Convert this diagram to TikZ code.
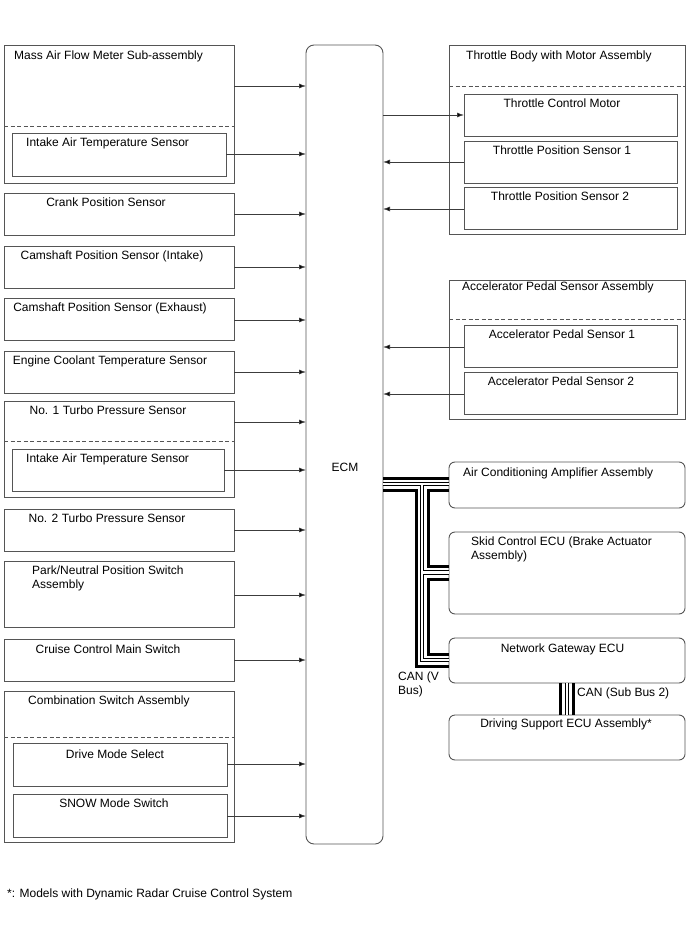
\documentclass[tikz,border=0pt]{standalone}
\usepackage{fontspec}
\setmainfont{Liberation Sans}
\usetikzlibrary{arrows.meta}
\definecolor{bc}{RGB}{85,85,85}
\definecolor{lc}{RGB}{60,60,60}
\begin{document}
\begin{tikzpicture}[x=1pt,y=-1pt,
  box/.style={draw=bc,line width=0.9pt,inner sep=0pt,outer sep=0pt,anchor=north west},
  rbox/.style={box,rounded corners=6pt},
  dline/.style={draw=bc,line width=0.8pt,dash pattern=on 4pt off 2.5pt},
  arr/.style={draw=lc,line width=0.8pt,-{Latex[length=7pt,width=5pt,fill=black]}},
  txt/.style={inner sep=0pt,font=\fontsize{12}{14}\selectfont},
  thk/.style={line width=3pt,black},
  dblo/.style={line width=4.2pt,black},
  dbli/.style={line width=2.4pt,white}
]
\useasboundingbox (0,0) rectangle (688,949);
\newcommand{\bx}[6][box]{\node[#1,minimum width=#5pt,minimum height=#6pt] (#2) at (#3,#4) {};}
% left column
\bx{maf}{4}{45}{230}{138}
\bx{iat1}{12}{133}{214}{43}
\bx{crk}{4}{193}{230}{42}
\bx{cmi}{4}{246}{230}{42}
\bx{cme}{4}{298}{230}{42}
\bx{ect}{4}{351}{230}{42}
\bx{tb1}{4}{401}{230}{96}
\bx{iat2}{12}{449}{212}{42}
\bx{tb2}{4}{509}{230}{42}
\bx{pnp}{4}{561}{230}{66}
\bx{ccs}{4}{639}{230}{42}
\bx{cmb}{4}{691}{230}{151}
\bx{dms}{13}{743}{214}{43}
\bx{snw}{13}{794}{214}{43}
\draw[dline] (maf.west |- 0,126) -- (maf.east |- 0,126);
\draw[dline] (tb1.west |- 0,441) -- (tb1.east |- 0,441);
\draw[dline] (cmb.west |- 0,737) -- (cmb.east |- 0,737);
% ECM
\node[box,rounded corners=8pt,minimum width=77pt,minimum height=799pt] (ecm) at (306,45) {};
% right column
\bx{thr}{449}{45}{236}{189}
\bx{tcm}{464}{94}{213}{42}
\bx{tp1}{464}{141}{213}{42}
\bx{tp2}{464}{187}{213}{42}
\bx{acc}{449}{280}{236}{139}
\bx{ap1}{464}{325}{213}{42}
\bx{ap2}{464}{372}{213}{42}
\draw[dline] (thr.west |- 0,86) -- (thr.east |- 0,86);
\draw[dline] (acc.west |- 0,319) -- (acc.east |- 0,319);
\bx[rbox]{ac}{449}{462}{236}{46}
\bx[rbox]{skid}{449}{532}{236}{82}
\bx[rbox]{gw}{449}{638}{236}{45}
\bx[rbox]{ds}{449}{715}{236}{45}
% texts
\node[txt,anchor=base west] (t1) at (14,59.5) {Mass Air Flow Meter Sub-assembly};
\node[txt,anchor=base west] (t2) at (26,146.5) {Intake Air Temperature Sensor};
\node[txt,anchor=base] (t3) at (106,206.5) {Crank Position Sensor};
\node[txt,anchor=base] (t4) at (112,259.5) {Camshaft Position Sensor (Intake)};
\node[txt,anchor=base] (t5) at (110,311.5) {Camshaft Position Sensor (Exhaust)};
\node[txt,anchor=base] (t6) at (110,364.5) {Engine Coolant Temperature Sensor};
\node[txt,anchor=base] (t7) at (108,414.5) {No. 1 Turbo Pressure Sensor};
\node[txt,anchor=base west] (t8) at (26,462.5) {Intake Air Temperature Sensor};
\node[txt,anchor=base] (t9) at (107,522.5) {No. 2 Turbo Pressure Sensor};
\node[txt,anchor=base west] (t10) at (32,574.5) {Park/Neutral Position Switch};
\node[txt,anchor=base west] (t11) at (32,588.5) {Assembly};
\node[txt,anchor=base] (t12) at (108,653.5) {Cruise Control Main Switch};
\node[txt,anchor=base west] (t13) at (28,704.5) {Combination Switch Assembly};
\node[txt,anchor=base] (t14) at (115,758.5) {Drive Mode Select};
\node[txt,anchor=base] (t15) at (114,807.5) {SNOW Mode Switch};
\node[txt,anchor=base] (t16) at (345,471.5) {ECM};
\node[txt,anchor=base west] (t17) at (466,59.5) {Throttle Body with Motor Assembly};
\node[txt,anchor=base] (t18) at (562,107.5) {Throttle Control Motor};
\node[txt,anchor=base] (t19) at (562,154.5) {Throttle Position Sensor 1};
\node[txt,anchor=base] (t20) at (560,200.5) {Throttle Position Sensor 2};
\node[txt,anchor=base west] (t21) at (462,290.5) {Accelerator Pedal Sensor Assembly};
\node[txt,anchor=base] (t22) at (562,338.5) {Accelerator Pedal Sensor 1};
\node[txt,anchor=base] (t23) at (561,385.5) {Accelerator Pedal Sensor 2};
\node[txt,anchor=base west] (t24) at (463,476.5) {Air Conditioning Amplifier Assembly};
\node[txt,anchor=base west] (t25) at (471,545.5) {Skid Control ECU (Brake Actuator};
\node[txt,anchor=base west] (t26) at (471,559.5) {Assembly)};
\node[txt,anchor=base] (t27) at (562.5,652.5) {Network Gateway ECU};
\node[txt,anchor=base] (t28) at (566,727.5) {Driving Support ECU Assembly*};
\node[txt,anchor=base west] (t29) at (577,696.5) {CAN (Sub Bus 2)};
\node[txt,anchor=base west] (t30) at (398,680.5) {CAN (V};
\node[txt,anchor=base west] (t31) at (398,694.5) {Bus)};
\node[txt,anchor=base west] (t32) at (7,897.5) {*: Models with Dynamic Radar Cruise Control System};
% arrows left -> ECM
\draw[arr] (maf.east |- 0,86) -- (ecm.west |- 0,86);
\draw[arr] (iat1.east |- 0,154) -- (ecm.west |- 0,154);
\draw[arr] (crk.east |- 0,214) -- (ecm.west |- 0,214);
\draw[arr] (cmi.east |- 0,267) -- (ecm.west |- 0,267);
\draw[arr] (cme.east |- 0,320) -- (ecm.west |- 0,320);
\draw[arr] (ect.east |- 0,372) -- (ecm.west |- 0,372);
\draw[arr] (tb1.east |- 0,422) -- (ecm.west |- 0,422);
\draw[arr] (iat2.east |- 0,470) -- (ecm.west |- 0,470);
\draw[arr] (tb2.east |- 0,530) -- (ecm.west |- 0,530);
\draw[arr] (pnp.east |- 0,595) -- (ecm.west |- 0,595);
\draw[arr] (ccs.east |- 0,660) -- (ecm.west |- 0,660);
\draw[arr] (dms.east |- 0,764) -- (ecm.west |- 0,764);
\draw[arr] (snw.east |- 0,816) -- (ecm.west |- 0,816);
% right arrows
\draw[arr] (ecm.east |- 0,115) -- (tcm.west |- 0,115);
\draw[arr] (tp1.west |- 0,162) -- (ecm.east |- 0,162);
\draw[arr] (tp2.west |- 0,209) -- (ecm.east |- 0,209);
\draw[arr] (ap1.west |- 0,347) -- (ecm.east |- 0,347);
\draw[arr] (ap2.west |- 0,394) -- (ecm.east |- 0,394);
% CAN V bus
\coordinate (jo) at (416,490);
\coordinate (jd) at (422,484);
\coordinate (ji) at (428,490);
\draw[thk] (ecm.east |- 0,478) -- (ac.west |- 0,478);
\draw[thk] (ecm.east |- 0,490) -- (jo) -- (jo |- 0,666) -- (gw.west |- 0,666);
\draw[thk] (ac.west |- 0,490) -- (ji) -- (ji |- 0,566) -- (skid.west |- 0,566);
\draw[thk] (skid.west |- 0,579) -- (ji |- 0,579) -- (ji |- 0,654) -- (gw.west |- 0,654);
\foreach \s in {dblo,dbli}{
  \draw[\s] (ecm.east |- 0,484) -- (ac.west |- 0,484);
  \draw[\s] (jd) -- (jd |- 0,660) -- (gw.west |- 0,660);
  \draw[\s] (jd |- 0,572.5) -- (skid.west |- 0,572.5);
}
% CAN sub bus 2
\draw[thk] (gw.south -| 560.5,0) -- (ds.north -| 560.5,0);
\draw[thk] (gw.south -| 573.5,0) -- (ds.north -| 573.5,0);
\draw[dblo] (gw.south -| 567,0) -- (ds.north -| 567,0);
\draw[dbli] (gw.south -| 567,0) -- (ds.north -| 567,0);
\end{tikzpicture}
\end{document}
